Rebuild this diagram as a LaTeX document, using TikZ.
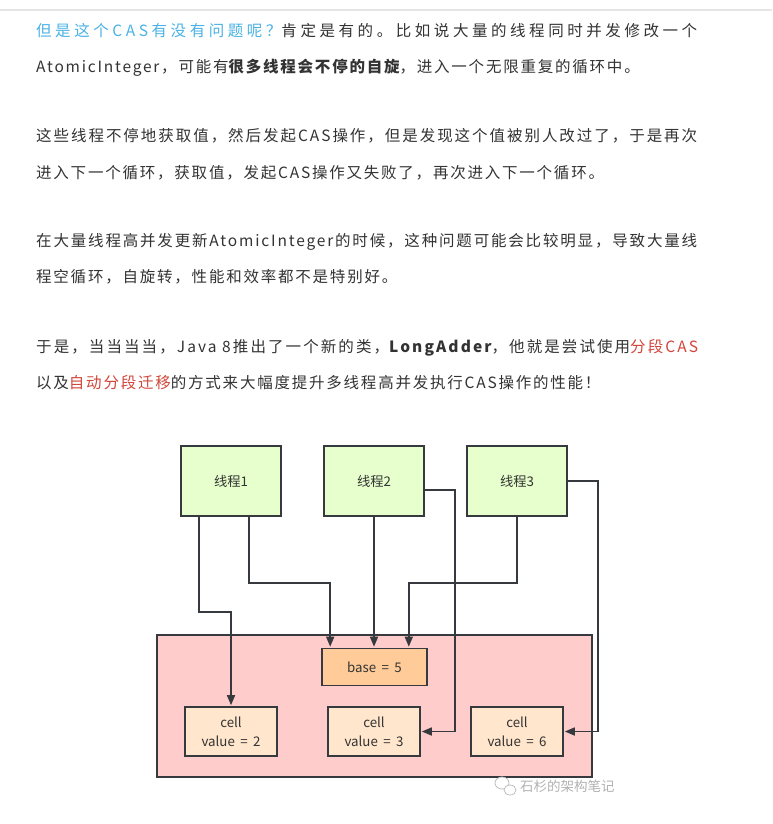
\documentclass[tikz,border=0pt]{standalone}
\usepackage{fontspec}
\setmainfont{Noto Sans CJK SC}
\newfontfamily\bodyfont{Noto Sans CJK SC}
\newfontfamily\boxfont[WordSpace=1.8]{Noto Sans CJK SC}
\usetikzlibrary{arrows.meta,positioning}
\definecolor{inkgray}{HTML}{333333}
\definecolor{edgegray}{HTML}{36393D}
\definecolor{askblue}{HTML}{4AB2E5}
\definecolor{markred}{HTML}{D2453A}
\definecolor{threadgreen}{HTML}{E6FFCC}
\definecolor{poolpink}{HTML}{FFCCCC}
\definecolor{baseorange}{HTML}{FFCC99}
\definecolor{cellpeach}{HTML}{FFE6CC}
% spread a text line to a given width by its letter spacing
\newcommand\fullline[2]{%
    \setbox0\hbox{\bodyfont #2}%
    \setbox2\hbox{\bodyfont\addfontfeatures{LetterSpace=10}#2}%
    \edef\lsval{\fpeval{round(10*(#1-\the\wd0)/(\the\wd2-\the\wd0),2)}}%
    \bodyfont\addfontfeatures{LetterSpace=\lsval}#2}

\begin{document}
\begin{tikzpicture}[x=1pt,y=-1pt,
    line/.style={anchor=base west, inner sep=0pt, text=inkgray,
        font=\bodyfont\addfontfeatures{LetterSpace=11.5}\fontsize{15.5}{18}\selectfont},
    box/.style={draw=edgegray, line width=1.6pt, inner sep=0pt, text=inkgray,
        align=center, font=\boxfont\fontsize{13.3}{19}\selectfont},
    thread/.style={box, fill=threadgreen, minimum width=100pt, minimum height=70pt},
    cellbox/.style={box, fill=cellpeach, minimum width=92pt, minimum height=49pt},
    link/.style={draw=edgegray, line width=1.6pt,
        -{Triangle[length=10pt,width=8pt]}, shorten >=1pt}]
    \useasboundingbox[fill=white] (0,0) rectangle (772,824);

    % top rule of the page
    \draw[black!10, line width=1.2pt] (0,10) -- (772,10);

    % text paragraphs
    \node[line] (p1) at (36,37) {\fullline{661pt}{{\color{askblue}但是这个CAS有没有问题呢？}肯定是有的。比如说大量的线程同时并发修改一个}};
    \node[line] (p2) at (36,73) {AtomicInteger，可能有{\bfseries 很多线程会不停的自旋}，进入一个无限重复的循环中。};
    \node[line] (p3) at (36,142) {\fullline{661pt}{这些线程不停地获取值，然后发起CAS操作，但是发现这个值被别人改过了，于是再次}};
    \node[line] (p4) at (36,178) {进入下一个循环，获取值，发起CAS操作又失败了，再次进入下一个循环。};
    \node[line] (p5) at (36,246) {\fullline{661pt}{在大量线程高并发更新AtomicInteger的时候，这种问题可能会比较明显，导致大量线}};
    \node[line] (p6) at (36,282) {程空循环，自旋转，性能和效率都不是特别好。};
    \node[line] (p7) at (36,352) {\fullline{661pt}{于是，当当当当，Java 8推出了一个新的类，{\bfseries LongAdder}，他就是尝试使用{\color{markred}分段CAS}}};
    \node[line] (p8) at (36,388) {以及{\color{markred}自动分段迁移}的方式来大幅度提升多线程高并发执行CAS操作的性能！};

    % the LongAdder container
    \draw[fill=poolpink, draw=edgegray, line width=1.6pt] (157,635) rectangle (592,777);

    % threads
    \foreach \i/\x in {1/231,2/374,3/517} {
        \node[thread] (t\i) at (\x,481) {线程\i};
    }

    % base and cells
    \node[box, fill=baseorange, minimum width=105pt, minimum height=37pt] (base) at (374.5,667) {base = 5};
    \foreach \i/\x/\v in {1/231/2,2/374/3,3/517/6} {
        \node[cellbox] (c\i) at (\x,731.5) {cell\\value = \v};
    }

    % connectors
    \draw[link] ([xshift=19pt]t1.south west) -- ++(0,95) -| (c1.north);
    \draw[link] ([xshift=69pt]t1.south west) -- ++(0,66) -| ([xshift=9pt]base.north west);
    \draw[link] (t2.south) -- (t2.south |- base.north);
    \draw[link] (t3.south) -- ++(0,66) -| ([xshift=-19pt]base.north east);
    \draw[link] ([yshift=-9pt]t2.east) -- ++(30,0) |- (c2.east);
    \draw[link] (t3.east) -- ++(30,0) |- (c3.east);

    % watermark
    \draw[black!25, fill=white, line width=0.8pt] (502,783) ellipse (7pt and 6pt);
    \draw[black!25, fill=white, line width=0.8pt] (510,790) ellipse (6pt and 5pt);
    \node[anchor=west, inner sep=0pt, text=black!30, font=\bodyfont\fontsize{13.5}{15}\selectfont] (mark) at (520,786) {石杉的架构笔记};
\end{tikzpicture}
\end{document}
